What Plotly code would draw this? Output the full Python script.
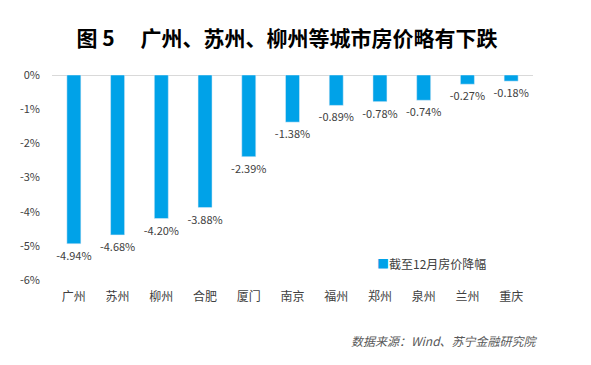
import plotly.graph_objects as go

cities = ["广州", "苏州", "柳州", "合肥", "厦门", "南京", "福州", "郑州", "泉州", "兰州", "重庆"]
declines = [-4.94, -4.68, -4.20, -3.88, -2.39, -1.38, -0.89, -0.78, -0.74, -0.27, -0.18]
y_ticks = [0, -1, -2, -3, -4, -5, -6]
y_tick_labels = ["0%", "-1%", "-2%", "-3%", "-4%", "-5%", "-6%"]

FONT = "Microsoft YaHei, Noto Sans CJK SC, sans-serif"
BAR = "#00A2E8"

fig = go.Figure()
fig.add_trace(go.Bar(
    x=cities, y=declines, name="截至12月房价降幅",
    marker=dict(color=BAR),
    width=0.32,
    text=[f"{v:.2f}%" for v in declines],
    textposition="outside",
    constraintext="none",
    textfont=dict(size=11, color="#404040", family=FONT),
    cliponaxis=False,
    showlegend=False,
))

fig.update_layout(
    width=591, height=365,
    paper_bgcolor="white", plot_bgcolor="white",
    margin=dict(l=37, r=66, t=67, b=93),
    font=dict(family=FONT, size=11, color="#404040"),
    title=dict(text="<b>图 5　 广州、苏州、柳州等城市房价略有下跌</b>",
               x=0.472, xanchor="center", y=0.915, yanchor="middle",
               font=dict(size=21, color="#000000", family="Noto Sans CJK SC, sans-serif")),
    xaxis=dict(showline=False, showgrid=False, ticks="", side="bottom",
               tickfont=dict(size=12, color="#404040"), ticklabelstandoff=8),
    yaxis=dict(range=[-6, 0], tickvals=y_ticks, ticktext=y_tick_labels,
               showgrid=False, zeroline=True, zerolinecolor="#D9D9D9", zerolinewidth=1,
               ticks="", tickfont=dict(size=11, color="#404040"), ticklabelstandoff=11),
    annotations=[
        dict(text=f'<span style="color:{BAR}">■</span>截至12月房价降幅', xref="paper", yref="paper",
             x=0.672, y=0.08, xanchor="left", yanchor="middle", showarrow=False,
             font=dict(size=12, color="#404040")),
        dict(text="<i>数据来源：Wind、苏宁金融研究院</i>", xref="paper", yref="paper",
             x=0.815, y=-0.293, xanchor="center", yanchor="middle", showarrow=False,
             font=dict(size=12, color="#595959")),
    ],
)

fig.write_html("out.html")
